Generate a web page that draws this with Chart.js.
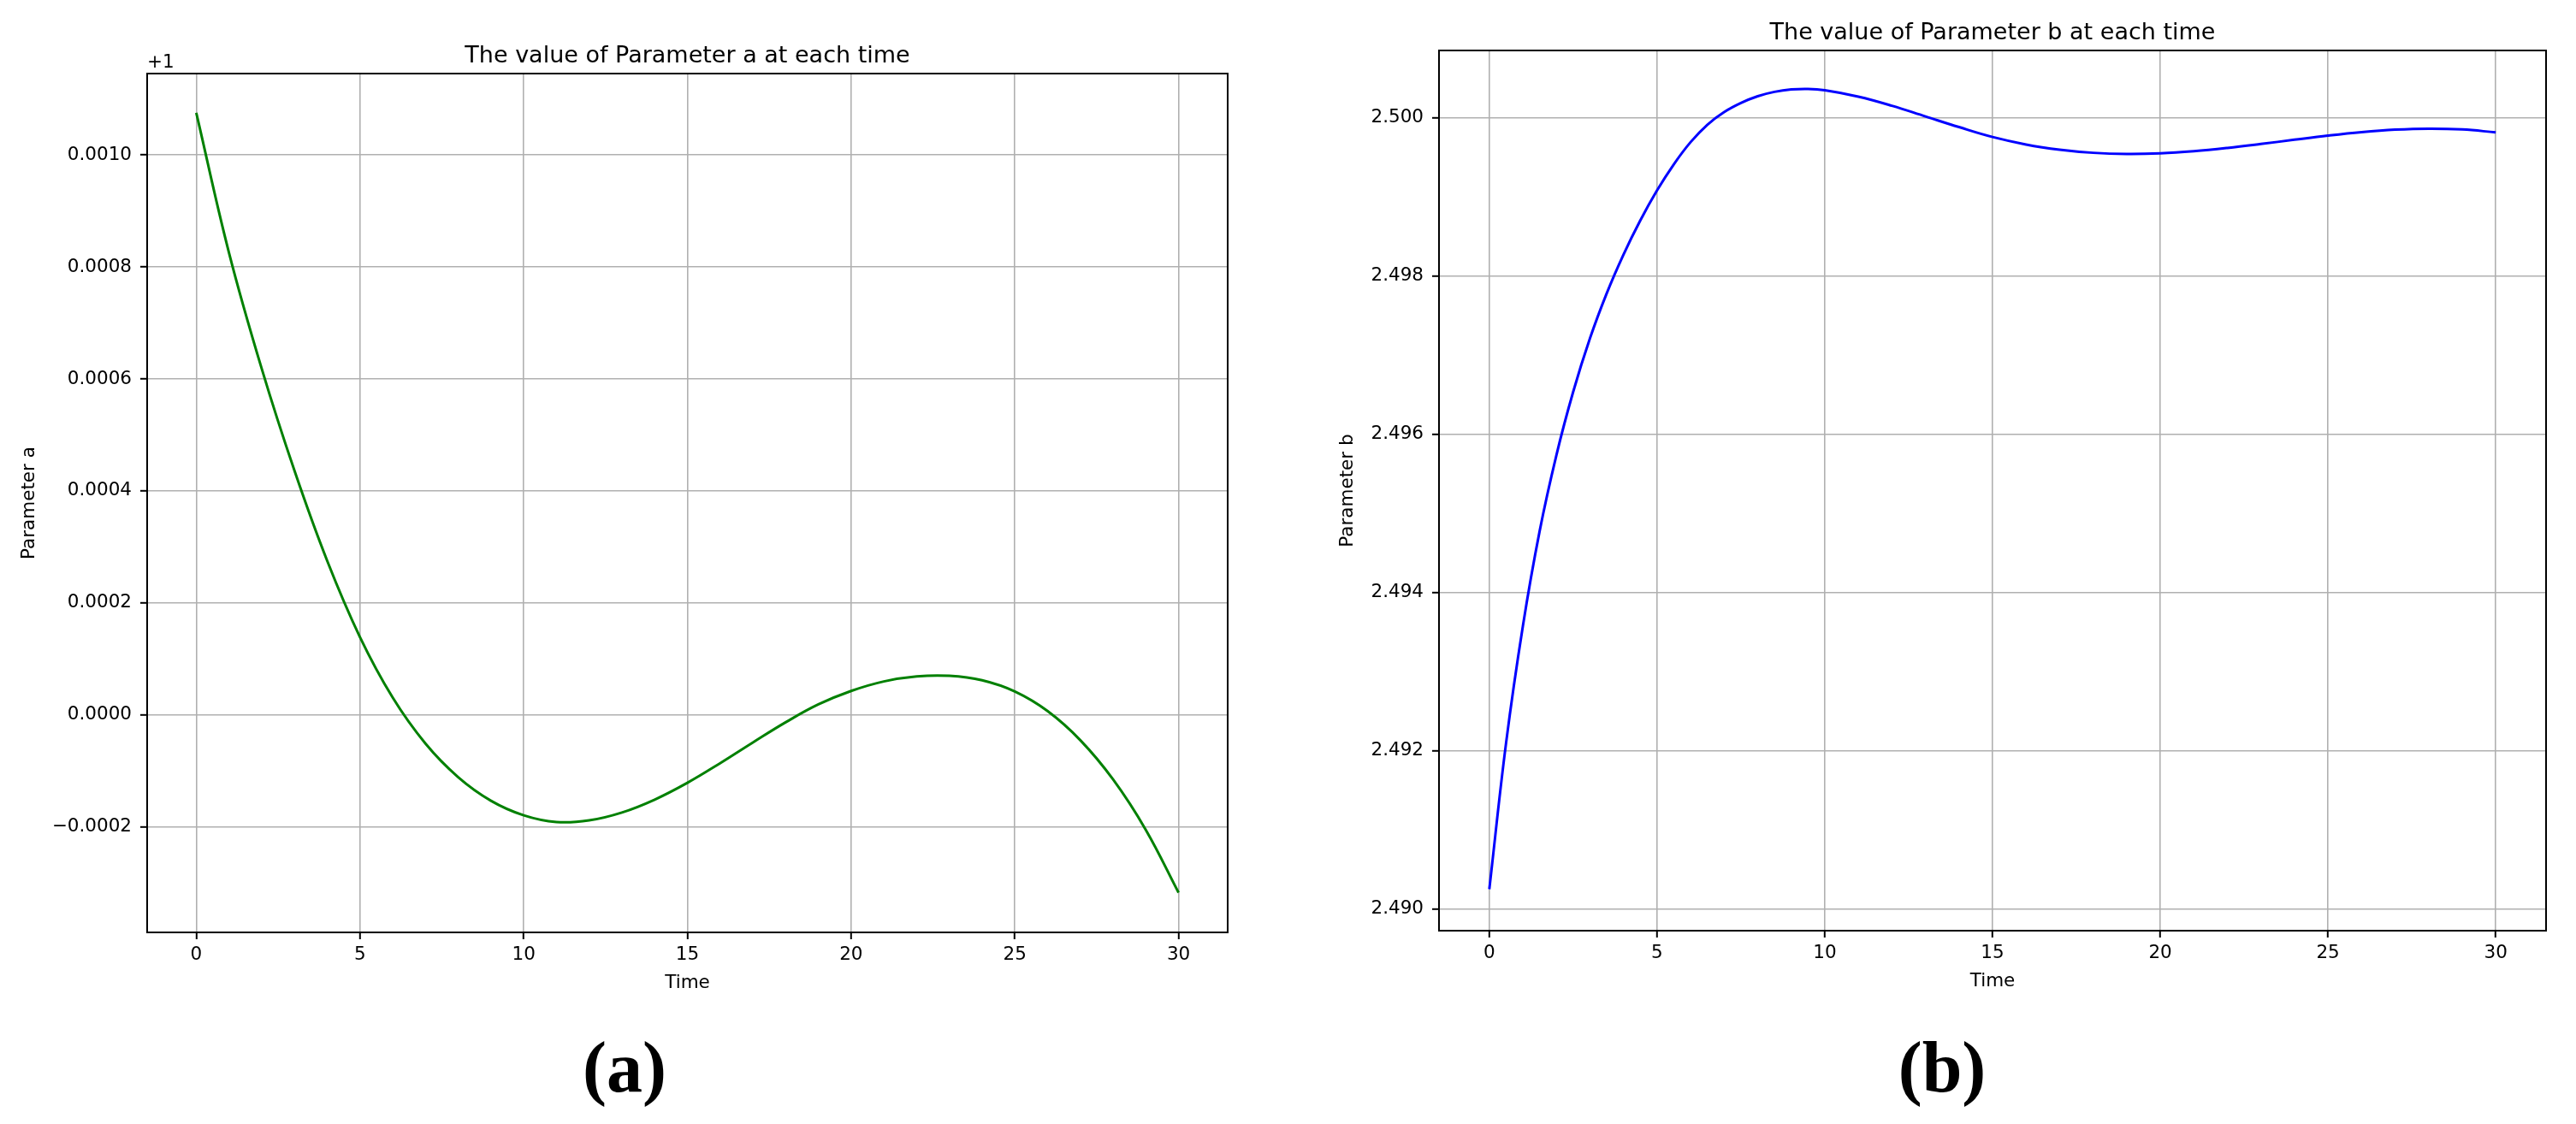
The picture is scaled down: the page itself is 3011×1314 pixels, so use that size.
<!DOCTYPE html>
<html>
<head>
<meta charset="utf-8">
<script src="https://cdn.jsdelivr.net/npm/chart.js@4.4.0/dist/chart.umd.min.js"></script>
<style>
    body { margin: 0; background: #fff; width: 3011px; height: 1314px; position: relative; overflow: hidden; }
    canvas { position: absolute; top: 0; }
    #chartA { left: 0; }
    #chartB { left: 1540px; }
    .caption {
        position: absolute;
        top: 1206px;
        font-family: 'Liberation Serif', serif;
        font-weight: bold;
        font-size: 84px;
        line-height: 1;
        transform: translateX(-50%);
        white-space: nowrap;
    }
</style>
</head>
<body>
<canvas id="chartA" width="1540" height="1200"></canvas>
<canvas id="chartB" width="1471" height="1200"></canvas>
<div class="caption" style="left: 730px;">(a)</div>
<div class="caption" style="left: 2270px;">(b)</div>

<script>
// Parameter a (values around 1, axis shows offset from +1)
const timeA = [0, 1, 2, 3, 4, 5, 6, 7, 8, 9, 10, 11, 12, 13, 14, 15,
               16, 17, 18, 19, 20, 21, 22, 23, 24, 25, 26, 27, 28, 29, 30];
const paramA = [1.001075, 1.000825, 1.000618, 1.000436, 1.000275, 1.000139, 1.000031, 0.999949,
                0.999889, 0.999847, 0.999821, 0.999809, 0.999812, 0.999826, 0.999849, 0.999879,
                0.999914, 0.999951, 0.999987, 1.000019, 1.000043, 1.000060, 1.000069, 1.000070,
                1.000062, 1.000042, 1.000007, 0.999955, 0.999885, 0.999795, 0.999683];

// Parameter b
const timeB = [0, 0.5, 1, 1.5, 2, 2.5, 3, 3.5, 4, 4.5, 5, 5.5, 6, 6.5, 7, 7.5, 8, 8.5, 9, 9.5, 10,
               11, 12, 13, 14, 15, 16, 17, 18, 19, 20, 21, 22, 23, 24, 25, 26, 27, 28, 29, 30];
const paramB = [2.490250, 2.492100, 2.493575, 2.494775, 2.495735, 2.496535, 2.497210, 2.497780,
                2.498270, 2.498700, 2.499080, 2.499410, 2.499690, 2.499910, 2.500070, 2.500185,
                2.500270, 2.500325, 2.500355, 2.500362, 2.500345,
                2.500265, 2.500150, 2.500015, 2.499880, 2.499755, 2.499660, 2.499595, 2.499555,
                2.499540, 2.499548, 2.499575, 2.499616, 2.499666, 2.499720, 2.499772, 2.499816,
                2.499847, 2.499860, 2.499850, 2.499813];

const timeTicks = [0, 5, 10, 15, 20, 25, 30];

Chart.defaults.font.family = "'DejaVu Sans'";
Chart.defaults.color = '#000';

// frame + matplotlib-style texts
const figureText = {
    id: 'figureText',
    afterDraw(chart, args, opts) {
        const ctx = chart.ctx;
        const area = chart.chartArea;
        const cx = (area.left + area.right) / 2;
        ctx.save();
        ctx.strokeStyle = '#000';
        ctx.lineWidth = 2;
        ctx.strokeRect(area.left, area.top, area.right - area.left, area.bottom - area.top);

        ctx.fillStyle = '#000';
        ctx.textAlign = 'center';
        ctx.textBaseline = 'alphabetic';
        ctx.font = "27px 'DejaVu Sans'";
        ctx.fillText(opts.title, cx, area.top - 13);

        ctx.font = "21.5px 'DejaVu Sans'";
        ctx.fillText(opts.xLabel, cx, area.bottom + 65);

        if (opts.offsetText) {
            ctx.textAlign = 'left';
            ctx.fillText(opts.offsetText, area.left, area.top - 7);
        }

        ctx.translate(opts.yLabelX, (area.top + area.bottom) / 2);
        ctx.rotate(-Math.PI / 2);
        ctx.textAlign = 'center';
        ctx.fillText(opts.yLabel, 0, 0);
        ctx.restore();
    }
};

function axisOptions(min, max, step, size, horizontal, fmt) {
    return {
        type: 'linear',
        min: min,
        max: max,
        border: { display: false },
        grid: {
            color: '#b0b0b0',
            lineWidth: 1.6,
            tickColor: '#000',
            tickWidth: 2,
            tickLength: 8
        },
        ticks: {
            stepSize: step,
            includeBounds: false,
            autoSkip: false,
            maxRotation: 0,
            padding: horizontal ? 6 : 10,
            color: '#000',
            font: { size: 21.5 },
            callback: fmt
        },
        afterFit: function(scale) {
            if (horizontal) scale.height = size;
            else scale.width = size;
        }
    };
}

function renderParamChart(id, times, values, color, opts) {
    const ctx = document.getElementById(id).getContext('2d');
    new Chart(ctx, {
        type: 'line',
        data: {
            datasets: [{
                data: times.map((t, i) => ({ x: t, y: values[i] })),
                borderColor: color,
                borderWidth: 3,
                pointRadius: 0,
                tension: 0.4,
                fill: false
            }]
        },
        options: {
            responsive: false,
            animation: false,
            devicePixelRatio: 1,
            layout: { padding: opts.padding },
            plugins: {
                legend: { display: false },
                tooltip: { enabled: false },
                figureText: opts.text
            },
            scales: {
                x: axisOptions(-1.5, 31.5, 5, opts.xHeight, true, v => timeTicks.includes(v) ? String(v) : ''),
                y: axisOptions(opts.yMin, opts.yMax, opts.yStep, opts.yWidth, false, opts.yFormat)
            }
        },
        plugins: [figureText]
    });
}

renderParamChart('chartA', timeA, paramA, '#008000', {
    padding: { top: 86, left: 0, right: 105, bottom: 0 },
    xHeight: 110,
    yWidth: 172,
    yMin: 0.999612,
    yMax: 1.001145,
    yStep: 0.0002,
    yFormat: v => (v - 1).toFixed(4).replace('-', '\u2212'),
    text: {
        title: 'The value of Parameter a at each time',
        xLabel: 'Time',
        yLabel: 'Parameter a',
        yLabelX: 40,
        offsetText: '+1'
    }
});

renderParamChart('chartB', timeB, paramB, '#0000ff', {
    padding: { top: 59, left: 0, right: 35, bottom: 0 },
    xHeight: 112,
    yWidth: 142,
    yMin: 2.489726,
    yMax: 2.500848,
    yStep: 0.002,
    yFormat: v => v.toFixed(3),
    text: {
        title: 'The value of Parameter b at each time',
        xLabel: 'Time',
        yLabel: 'Parameter b',
        yLabelX: 41
    }
});
</script>
</body>
</html>
